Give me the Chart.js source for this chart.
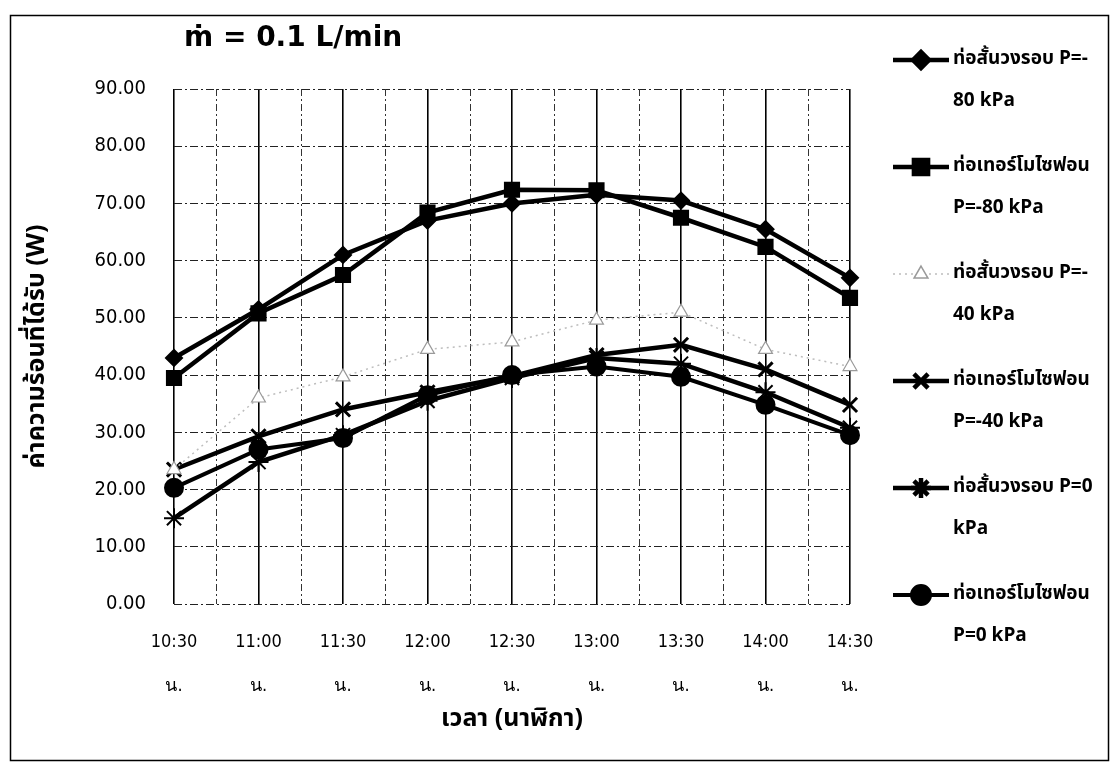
<!DOCTYPE html>
<html>
<head>
<meta charset="utf-8">
<script src="https://cdn.jsdelivr.net/npm/chart.js@4.4.1/dist/chart.umd.min.js"></script>
<style>
  html, body { margin: 0; padding: 0; background: #fff; }
  #wrap { position: relative; width: 1120px; height: 778px; }
  #title { position: absolute; left: 184px; top: 20px; font: bold 28px 'DejaVu Sans', sans-serif; color: #000; }
</style>
</head>
<body>
<div id="wrap">
  <canvas id="c" width="1120" height="778"></canvas>
  <div id="title">ṁ = 0.1 L/min</div>
</div>
<script>
// ── data ──────────────────────────────────────────────────────────────────
const times = ['10:30', '11:00', '11:30', '12:00', '12:30', '13:00', '13:30', '14:00', '14:30'];
const shortM80  = [43, 51.5, 61, 67, 70, 71.5, 70.5, 65.5, 57];
const thermoM80 = [39.5, 50.8, 57.5, 68.4, 72.4, 72.3, 67.5, 62.4, 53.5];
const shortM40  = [23.5, 36, 39.7, 44.5, 45.8, 49.6, 51, 44.5, 41.5];
const thermoM40 = [23.5, 29.3, 34, 37, 39.8, 43.5, 45.3, 41, 34.8];
const short0    = [15, 24.8, 29.5, 35.5, 39.5, 43, 42, 37, 30.8];
const thermo0   = [20.3, 27, 29, 36.5, 40, 41.5, 39.7, 34.8, 29.5];
const yTicks    = [0, 10, 20, 30, 40, 50, 60, 70, 80, 90];

const legendText = [
  ['ท่อสั้นวงรอบ P=-', '80 kPa'],
  ['ท่อเทอร์โมไซฟอน', 'P=-80 kPa'],
  ['ท่อสั้นวงรอบ P=-', '40 kPa'],
  ['ท่อเทอร์โมไซฟอน', 'P=-40 kPa'],
  ['ท่อสั้นวงรอบ P=0', 'kPa'],
  ['ท่อเทอร์โมไซฟอน', 'P=0 kPa'],
];

const THAI = "'Noto Sans Thai', 'Noto Sans', 'DejaVu Sans', sans-serif";
const NUM  = "'DejaVu Sans Condensed', 'Liberation Sans Narrow', 'DejaVu Sans', sans-serif";

const line = (data, style, radius, extra) => Object.assign({
  data, pointStyle: style, pointRadius: radius, pointHoverRadius: radius,
  borderColor: '#000', backgroundColor: '#000', pointBorderColor: '#000', pointBackgroundColor: '#000',
  borderWidth: 4.5, pointBorderWidth: 2, tension: 0, fill: false,
}, extra || {});

const datasets = [
  line(shortM80, 'rectRot', 8),
  line(thermoM80, 'rect', 10),
  line(shortM40, 'triangle', 8, { borderColor: '#bdbdbd', pointBorderColor: '#9a9a9a', pointBackgroundColor: '#fff',
                                  borderWidth: 1.5, borderDash: [2, 4], pointBorderWidth: 1.2 }),
  line(thermoM40, 'crossRot', 10, { pointBorderWidth: 3 }),
  line(short0, 'star', 10, { pointBorderWidth: 2 }),
  line(thermo0, 'circle', 9, { borderWidth: 4 }),
];
datasets.forEach((d, i) => d.label = legendText[i].join(' '));

// minor dashed verticals between categories, outer frame, legend
const extras = {
  id: 'extras',
  beforeDatasetsDraw(chart) {
    const { ctx, chartArea: a, scales: { x } } = chart;
    ctx.save();
    ctx.strokeStyle = '#333';
    ctx.lineWidth = 1;
    ctx.setLineDash([7, 3, 2, 3]);
    for (let i = 0; i < times.length - 1; i++) {
      const px = Math.round((x.getPixelForValue(i) + x.getPixelForValue(i + 1)) / 2) + 0.5;
      ctx.beginPath(); ctx.moveTo(px, a.top); ctx.lineTo(px, a.bottom); ctx.stroke();
    }
    ctx.restore();
  },
  afterDraw(chart) {
    const { ctx } = chart;
    ctx.save();
    ctx.strokeStyle = '#000';
    ctx.lineWidth = 1.5;
    ctx.strokeRect(10.5, 15.5, 1098, 745);

    const lx0 = 893, lx1 = 949, tx = 953;
    chart.data.datasets.forEach((d, i) => {
      const y = 60 + i * 107;
      ctx.strokeStyle = d.borderColor;
      ctx.lineWidth = d.borderWidth;
      ctx.setLineDash(d.borderDash || []);
      ctx.beginPath(); ctx.moveTo(lx0, y); ctx.lineTo(lx1, y); ctx.stroke();
      ctx.setLineDash([]);
      ctx.fillStyle = d.pointBackgroundColor;
      ctx.strokeStyle = d.pointBorderColor;
      Chart.helpers.drawPoint(ctx, {
        pointStyle: d.pointStyle, radius: d.pointRadius, borderWidth: d.pointBorderWidth, rotation: 0
      }, (lx0 + lx1) / 2, y);
      ctx.fillStyle = '#000';
      ctx.font = 'bold 19px ' + THAI;
      ctx.textBaseline = 'middle';
      ctx.fillText(legendText[i][0], tx, y);
      ctx.fillText(legendText[i][1], tx, y + 42);
    });
    ctx.restore();
  }
};

new Chart(document.getElementById('c'), {
  type: 'line',
  data: { labels: times.map(t => [t, 'น.']), datasets },
  plugins: [extras],
  options: {
    responsive: false, animation: false,
    layout: { padding: { top: 89, right: 270, left: 0, bottom: 42 } },
    plugins: { legend: { display: false }, tooltip: { enabled: false } },
    scales: {
      x: {
        offset: false,
        grid: { color: '#000', lineWidth: 1.6, drawTicks: false },
        border: { display: false },
        ticks: { color: '#000', font: { family: NUM, size: 18, lineHeight: '44px' }, padding: 16, maxRotation: 0 },
        title: { display: true, text: 'เวลา (นาฬิกา)', color: '#000', font: { family: THAI, size: 25, weight: 'bold' }, padding: { top: 0, bottom: 0 } },
        afterFit: s => { s.height = 132; },
      },
      y: {
        min: 0, max: 90,
        afterBuildTicks: s => { s.ticks = yTicks.map(v => ({ value: v })); },
        grid: { color: '#222', lineWidth: 1, drawTicks: false },
        border: { display: false, dash: [8, 3, 2, 3] },
        ticks: { color: '#000', font: { family: NUM, size: 20 }, padding: 28, callback: v => v.toFixed(2) },
        title: { display: true, text: 'ค่าความร้อนที่ได้รับ (W)', color: '#000', font: { family: THAI, size: 25, weight: 'bold' }, padding: { top: 24, bottom: 0 } },
        afterFit: s => { s.width = 174; },
      }
    }
  }
});
</script>
</body>
</html>
